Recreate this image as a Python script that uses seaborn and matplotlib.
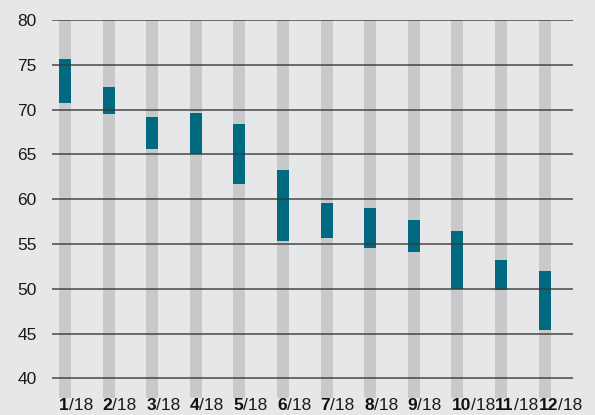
import numpy as np
import matplotlib
matplotlib.use("Agg")
import matplotlib.pyplot as plt
import seaborn as sns
import pandas as pd

# monthly range (low / high), 2018
months = ["1", "2", "3", "4", "5", "6", "7", "8", "9", "10", "11", "12"]
year_suffix = "/18"
low = [70.7, 69.5, 65.6, 65.0, 61.7, 55.3, 55.7, 54.5, 54.1, 50.0, 49.9, 45.4]
high = [75.6, 72.5, 69.2, 69.6, 68.4, 63.3, 59.6, 59.0, 57.7, 56.4, 53.2, 52.0]
yticks = [40, 45, 50, 55, 60, 65, 70, 75, 80]

bg = "#e6e7e9"
col_gray = "#c8c9cb"
teal = "#006a80"

sns.set_style("white")
plt.rcParams["font.family"] = ["Liberation Sans", "DejaVu Sans"]

df = pd.DataFrame({"month": months, "low": low, "high": high})
df["span"] = df["high"] - df["low"]

fig = plt.figure(figsize=(5.95, 4.15), dpi=100, facecolor=bg)
ax = fig.add_axes([52 / 595, 17 / 415, 521 / 595, 378 / 415])
ax.set_facecolor(bg)

ymin, ymax = 37.8, 80
# background columns
df["full"] = ymax - ymin
sns.barplot(data=df, x="month", y="full", order=months, color=col_gray,
            width=0.275, bottom=ymin, saturation=1, linewidth=0, ax=ax, zorder=1)
# range bars
sns.barplot(data=df, x="month", y="span", order=months, color=teal,
            width=0.275, bottom=df["low"].values, saturation=1, linewidth=0,
            ax=ax, zorder=2)

ax.set_ylim(ymin, ymax)
ax.set_xlim(-0.298, 11.65)
ax.set_yticks(yticks)
ax.set_yticklabels([str(t) for t in yticks], fontsize=12.5, color="#1a1a1a")
ax.tick_params(axis="y", length=0, pad=11)
ax.set_xticks([])
ax.set_xlabel("")
ax.set_ylabel("")
for s in ax.spines.values():
    s.set_visible(False)

for t in yticks:
    ax.axhline(t, color="#3a3a3a", lw=1.2, alpha=0.85, zorder=3)

# x labels: bold month + "/18"
for i, m in enumerate(months):
    txt = ax.text(i - 0.1375, ymin - 0.05, m, fontsize=12.5, fontweight="bold",
                  color="#111111", ha="left", va="top", clip_on=False)
    ax.annotate(year_suffix, xy=(1, 0), xycoords=txt, fontsize=12.5,
                color="#1a1a1a", ha="left", va="bottom", annotation_clip=False)

fig.savefig("out.png", dpi=100, facecolor=bg)
